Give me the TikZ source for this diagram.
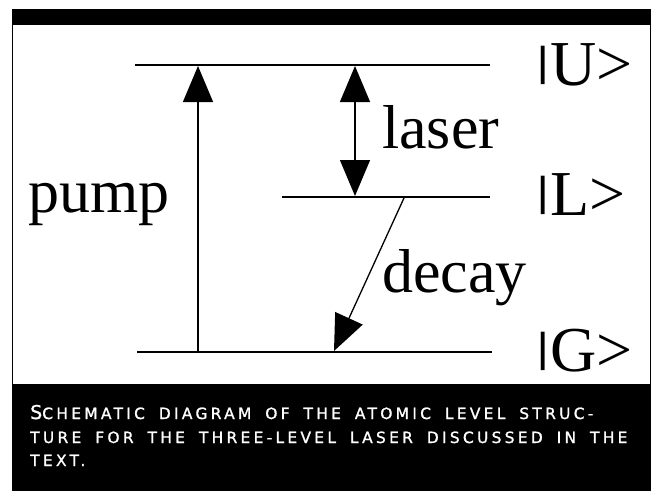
\documentclass[tikz,border=0pt]{standalone}
\usepackage{fontspec}
\setmainfont{Liberation Serif}
\newfontfamily\captionfont[LetterSpace=21, WordSpace=1.7, FakeBold=1.2]{DejaVu Sans}
\usetikzlibrary{positioning, arrows.meta, calc}

\newcommand{\kbar}{\raisebox{0.15em}{\scalebox{1.2}[0.66]{|}}}

\tikzset{
    level/.style={line width=2.6pt},
    trans/.style={line width=1.3pt, -{Triangle[length=36pt, width=30pt]}},
    biTrans/.style={line width=1.3pt, {Triangle[length=36pt, width=30pt]}-{Triangle[length=36pt, width=30pt]}},
    lbl/.style={font=\fontsize{62}{62}\selectfont, inner sep=0pt, anchor=base west},
    ket/.style={font=\fontsize{64}{64}\selectfont, inner sep=0pt, anchor=base west},
    capline/.style={font=\captionfont\fontsize{15.5}{15.5}\selectfont, text=white, inner sep=0pt, anchor=base west}
}

\begin{document}
\begin{tikzpicture}[x=1pt, y=-1pt]
    \useasboundingbox (0,0) rectangle (654,491);
    % frame and black bands
    \fill [black] (12,9) rectangle (651,25);
    \draw [line width=1.2pt] (12.6,25) -- (12.6,384) (650.4,25) -- (650.4,384);
    \fill [black] (12,384) rectangle (651,491);

    % energy levels
    \coordinate (Ul) at (135,65);  \coordinate (Ur) at (490,65);
    \coordinate (Ll) at (282,197); \coordinate (Lr) at (490,197);
    \coordinate (Gl) at (137,352); \coordinate (Gr) at (492,352);
    \draw [level] (Ul) -- (Ur);
    \draw [level] (Ll) -- (Lr);
    \draw [level] (Gl) -- (Gr);

    % transitions
    \coordinate (pumpG) at (198,352); \coordinate (pumpU) at (198,66);
    \coordinate (laserU) at (355,66); \coordinate (laserL) at (355,196);
    \coordinate (decayL) at (404,198); \coordinate (decayG) at (334,351);
    \draw [trans] (pumpG) -- (pumpU);
    \draw [biTrans] (laserL) -- (laserU);
    \draw [trans] (decayL) -- (decayG);

    % labels
    \node [lbl] (pump) at (28,212) {pump};
    \node [lbl] (laser) at (382,148) {laser};
    \node [lbl] (decay) at (382,292) {decay};
    \node [ket] (kU) at (535,85) {\kbar U>};
    \node [ket] (kL) at (535,215) {\kbar L>};
    \node [ket] (kG) at (535,371) {\kbar G>};

    % caption
    \node [capline] (cap1) at (30,419) {{\fontsize{19}{19}\selectfont S}CHEMATIC DIAGRAM OF THE ATOMIC LEVEL STRUC-};
    \node [capline] (cap2) at (30,443) {TURE FOR THE THREE-LEVEL LASER DISCUSSED IN THE};
    \node [capline] (cap3) at (30,466) {TEXT.};
\end{tikzpicture}
\end{document}
